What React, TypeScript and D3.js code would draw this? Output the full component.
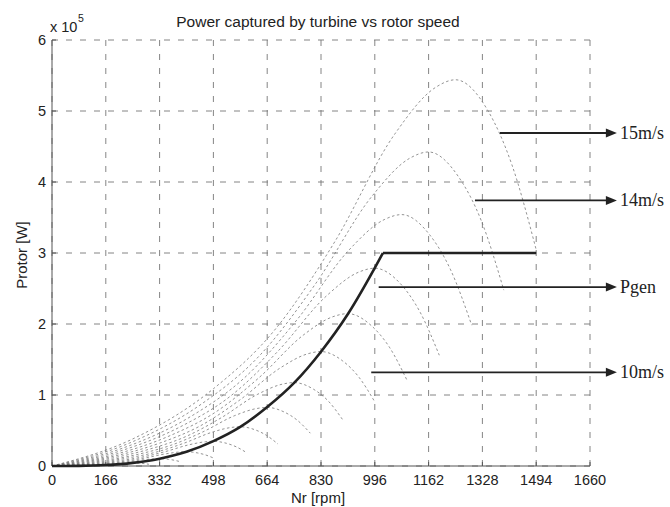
import React from "react";
import * as d3 from "d3";

// ---- data (rotor speed in rpm, power in units of 1e5 W) ----
const xTicks = [0, 166, 332, 498, 664, 830, 996, 1162, 1328, 1494, 1660];
const yTicks = [0, 1, 2, 3, 4, 5, 6];

const windSpeeds = [2, 3, 4, 5, 6, 7, 8, 9, 10, 11, 12, 13, 14, 15];
const curveRpm: number[][] = [
  [0, 33, 66, 91, 116, 141, 158, 166, 179, 189, 199],
  [0, 50, 100, 137, 174, 212, 237, 249, 269, 284, 299],
  [0, 66, 133, 183, 232, 282, 315, 332, 359, 378, 398],
  [0, 83, 166, 228, 291, 353, 394, 415, 448, 473, 498],
  [0, 100, 199, 274, 349, 423, 473, 498, 538, 568, 598],
  [0, 116, 232, 320, 407, 494, 552, 581, 627, 662, 697],
  [0, 133, 266, 365, 465, 564, 631, 664, 717, 757, 797],
  [0, 149, 299, 411, 523, 635, 710, 747, 807, 852, 896],
  [0, 166, 332, 457, 581, 706, 789, 830, 896, 946, 996],
  [0, 183, 365, 502, 639, 776, 867, 913, 986, 1041, 1096],
  [0, 199, 398, 548, 697, 847, 946, 996, 1076, 1135, 1195],
  [0, 216, 432, 593, 755, 917, 1025, 1079, 1165, 1230, 1295],
  [0, 232, 465, 639, 813, 988, 1104, 1162, 1255, 1325, 1394],
  [0, 249, 498, 685, 872, 1058, 1183, 1245, 1345, 1419, 1494],
];
const curvePower: number[][] = [
  [0, 0.0009, 0.0026, 0.0045, 0.0075, 0.0111, 0.0126, 0.0129, 0.0119, 0.0101, 0.0072],
  [0, 0.003, 0.0087, 0.0152, 0.0252, 0.0374, 0.0426, 0.0435, 0.04, 0.0339, 0.0244],
  [0, 0.0072, 0.0206, 0.036, 0.0597, 0.0886, 0.101, 0.103, 0.0948, 0.0803, 0.0577],
  [0, 0.0141, 0.0403, 0.0705, 0.117, 0.173, 0.197, 0.2015, 0.185, 0.157, 0.113],
  [0, 0.0244, 0.0696, 0.122, 0.202, 0.299, 0.341, 0.348, 0.32, 0.271, 0.195],
  [0, 0.0387, 0.111, 0.194, 0.321, 0.476, 0.542, 0.553, 0.509, 0.431, 0.31],
  [0, 0.0578, 0.165, 0.289, 0.479, 0.71, 0.809, 0.825, 0.759, 0.644, 0.462],
  [0, 0.0823, 0.235, 0.411, 0.682, 1.011, 1.152, 1.175, 1.081, 0.917, 0.658],
  [0, 0.113, 0.322, 0.564, 0.935, 1.386, 1.58, 1.612, 1.483, 1.257, 0.903],
  [0, 0.15, 0.429, 0.751, 1.245, 1.846, 2.103, 2.146, 1.974, 1.674, 1.202],
  [0, 0.195, 0.557, 0.975, 1.616, 2.396, 2.73, 2.786, 2.563, 2.173, 1.56],
  [0, 0.248, 0.708, 1.239, 2.054, 3.045, 3.47, 3.541, 3.258, 2.762, 1.983],
  [0, 0.31, 0.885, 1.548, 2.565, 3.804, 4.335, 4.423, 4.069, 3.45, 2.477],
  [0, 0.381, 1.088, 1.904, 3.155, 4.678, 5.331, 5.44, 5.005, 4.243, 3.046],
];

const optimalRpm = [0, 83, 166, 249, 332, 415, 498, 581, 664, 747, 830, 913, 996, 1021];
const optimalPower = [0, 0.0016, 0.013, 0.044, 0.103, 0.2, 0.35, 0.55, 0.83, 1.17, 1.61, 2.14, 2.79, 3.0];
const limitRpm = [1021, 1494];
const limitPower = [3.0, 3.0];

const arrowLabels = ["15m/s", "14m/s", "Pgen", "10m/s"];
const arrowStartRpm = [1382, 1305, 1008, 985];
const arrowEndRpm = [1743, 1743, 1743, 1743];
const arrowLevel = [4.69, 3.74, 2.52, 1.32];

// ---- layout ----
const W = 670;
const H = 507;
const left = 52;
const right = 590;
const top = 40;
const bottom = 466;

export default function App() {
  const x = d3.scaleLinear().domain([0, 1660]).range([left, right]);
  const y = d3.scaleLinear().domain([0, 6]).range([bottom, top]);

  const smooth = d3
    .line<[number, number]>()
    .x((d) => x(d[0]))
    .y((d) => y(d[1]))
    .curve(d3.curveMonotoneX);
  const straight = d3
    .line<[number, number]>()
    .x((d) => x(d[0]))
    .y((d) => y(d[1]));

  const sans = "'Liberation Sans', Arial, sans-serif";
  const serif = "'Liberation Serif', 'Times New Roman', serif";

  return (
    <svg
      width={W}
      height={H}
      style={{ position: "absolute", left: 0, top: 0, background: "#fff" }}
    >
      <rect x={0} y={0} width={W} height={H} fill="#fff" />
      {/* grid */}
      <g stroke="#777" strokeWidth={0.9} fill="none">
        {xTicks.map((t) => (
          <line key={"gx" + t} x1={x(t)} x2={x(t)} y1={y(0)} y2={y(6)} strokeDasharray="6,8" />
        ))}
        {yTicks.map((t) => (
          <line key={"gy" + t} x1={x(0)} x2={x(1660)} y1={y(t)} y2={y(t)} strokeDasharray="6,8" />
        ))}
      </g>
      {/* axes */}
      <g stroke="#555" strokeWidth={1}>
        <line x1={x(0)} x2={x(1660)} y1={y(0)} y2={y(0)} />
        <line x1={x(0)} x2={x(0)} y1={y(0)} y2={y(6)} />
        {xTicks.map((t) => (
          <line key={"tx" + t} x1={x(t)} x2={x(t)} y1={y(0)} y2={y(0) - 4} />
        ))}
        {yTicks.map((t) => (
          <line key={"ty" + t} x1={x(0)} x2={x(0) + 4} y1={y(t)} y2={y(t)} />
        ))}
      </g>
      {/* turbine power curves */}
      <g fill="none" stroke="#777" strokeWidth={0.8} strokeDasharray="2.5,2.5">
        {windSpeeds.map((v, i) => (
          <path
            key={"c" + v}
            d={smooth(curveRpm[i].map((n, j) => [n, curvePower[i][j]] as [number, number])) || ""}
          />
        ))}
      </g>
      {/* optimal / limited power */}
      <path
        d={smooth(optimalRpm.map((n, j) => [n, optimalPower[j]] as [number, number])) || ""}
        fill="none"
        stroke="#222"
        strokeWidth={2.6}
      />
      <path
        d={straight(limitRpm.map((n, j) => [n, limitPower[j]] as [number, number])) || ""}
        fill="none"
        stroke="#222"
        strokeWidth={2.6}
      />
      {/* annotations */}
      {arrowLabels.map((lab, i) => {
        const x0 = x(arrowStartRpm[i]);
        const x1 = x(arrowEndRpm[i]);
        const yy = y(arrowLevel[i]);
        return (
          <g key={lab}>
            <line x1={x0} x2={x1 - 8} y1={yy} y2={yy} stroke="#222" strokeWidth={1.8} />
            <path d={`M${x1},${yy} L${x1 - 11},${yy - 4.5} L${x1 - 11},${yy + 4.5} Z`} fill="#222" />
            <text x={x1 + 3} y={yy + 6} fontFamily={serif} fontSize={18} fill="#222">
              {lab}
            </text>
          </g>
        );
      })}
      {/* tick labels */}
      <g fontFamily={sans} fontSize={14.5} fill="#222">
        {xTicks.map((t) => (
          <text key={"lx" + t} x={x(t)} y={485} textAnchor="middle">
            {t}
          </text>
        ))}
        {yTicks.map((t) => (
          <text key={"ly" + t} x={x(0) - 6} y={y(t) + 5} textAnchor="end">
            {t}
          </text>
        ))}
      </g>
      <text x={50} y={32} fontFamily={sans} fontSize={14.5} fill="#222">
        x 10
      </text>
      <text x={78} y={22} fontFamily={sans} fontSize={10.5} fill="#222">
        5
      </text>
      <text x={318} y={27} textAnchor="middle" fontFamily={sans} fontSize={15.5} fill="#222">
        Power captured by turbine vs rotor speed
      </text>
      <text x={318} y={503} textAnchor="middle" fontFamily={sans} fontSize={15} fill="#222">
        Nr [rpm]
      </text>
      <text
        transform={`translate(27,${255}) rotate(-90)`}
        textAnchor="middle"
        fontFamily={sans}
        fontSize={15}
        fill="#222"
      >
        Protor [W]
      </text>
    </svg>
  );
}
